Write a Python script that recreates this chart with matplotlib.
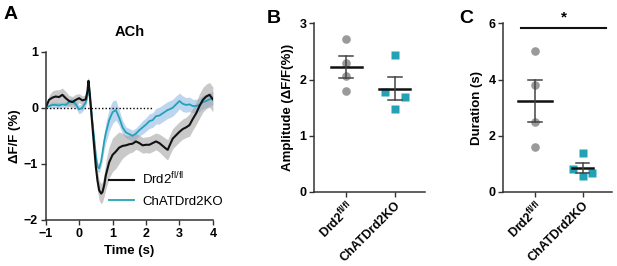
import numpy as np
import matplotlib
matplotlib.use("Agg")
import matplotlib.pyplot as plt

plt.rcParams['font.family'] = ['Liberation Sans', 'DejaVu Sans']
plt.rcParams['font.weight'] = 'bold'
plt.rcParams['axes.labelweight'] = 'bold'

# --- panel A: mean traces (dF/F %) ---
t = [-1.0, -0.9, -0.8, -0.7, -0.6, -0.5, -0.4, -0.3, -0.2, -0.1, 0.0, 0.1, 0.2, 0.25,
     0.28, 0.32, 0.38, 0.45, 0.5, 0.55, 0.6, 0.66, 0.7, 0.75, 0.8, 0.9, 1.0, 1.1, 1.2,
     1.3, 1.4, 1.5, 1.6, 1.7, 1.8, 1.9, 2.0, 2.1, 2.2, 2.3, 2.4, 2.5, 2.6, 2.65, 2.7,
     2.8, 2.9, 3.0, 3.1, 3.2, 3.3, 3.4, 3.5, 3.6, 3.7, 3.8, 3.9, 4.0]
wt_mean = [0.0, 0.14, 0.18, 0.2, 0.19, 0.23, 0.17, 0.12, 0.1, 0.14, 0.17, 0.13, 0.15, 0.3,
           0.48, 0.25, -0.2, -0.7, -1.05, -1.3, -1.47, -1.53, -1.5, -1.38, -1.2, -0.97, -0.84,
           -0.78, -0.71, -0.68, -0.67, -0.65, -0.64, -0.6, -0.63, -0.67, -0.66, -0.66, -0.63,
           -0.6, -0.63, -0.68, -0.73, -0.75, -0.68, -0.55, -0.49, -0.43, -0.38, -0.35, -0.31,
           -0.2, -0.1, 0.03, 0.14, 0.2, 0.23, 0.15]
wt_sem = [0.0, 0.08, 0.12, 0.12, 0.13, 0.12, 0.12, 0.1, 0.1, 0.1, 0.08, 0.08, 0.08, 0.08,
          0.08, 0.1, 0.12, 0.15, 0.17, 0.18, 0.18, 0.18, 0.18, 0.2, 0.25, 0.28, 0.3,
          0.3, 0.28, 0.22, 0.18, 0.16, 0.15, 0.14, 0.14, 0.14, 0.14, 0.15, 0.15,
          0.15, 0.16, 0.17, 0.18, 0.18, 0.18, 0.18, 0.18, 0.18, 0.18, 0.18, 0.2,
          0.2, 0.2, 0.22, 0.22, 0.22, 0.22, 0.22]
ko_mean = [0.0, 0.03, 0.05, 0.05, 0.04, 0.06, 0.05, 0.1, 0.12, 0.06, -0.03, 0.0, 0.1, 0.22,
           0.35, 0.2, -0.15, -0.55, -0.85, -1.05, -1.08, -0.95, -0.8, -0.6, -0.45, -0.22,
           -0.08, -0.04, -0.18, -0.35, -0.44, -0.47, -0.5, -0.46, -0.4, -0.35, -0.3, -0.24,
           -0.22, -0.15, -0.14, -0.1, -0.06, -0.04, -0.03, 0.0, 0.06, 0.12, 0.07, 0.05, 0.06,
           0.03, 0.03, 0.05, 0.1, 0.12, 0.15, 0.17]
ko_sem = [0.0, 0.04, 0.05, 0.05, 0.05, 0.05, 0.05, 0.06, 0.06, 0.07, 0.08, 0.07, 0.07, 0.07,
          0.07, 0.08, 0.08, 0.08, 0.08, 0.08, 0.08, 0.1, 0.12, 0.15, 0.18, 0.2,
          0.2, 0.18, 0.14, 0.12, 0.1, 0.1, 0.1, 0.1, 0.1, 0.12, 0.12, 0.13,
          0.13, 0.14, 0.15, 0.15, 0.15, 0.15, 0.15, 0.15, 0.15, 0.14, 0.14, 0.13, 0.13,
          0.12, 0.12, 0.12, 0.12, 0.12, 0.12, 0.12]

# --- panels B, C: individual animals ---
groups = ['Drd2$^{\\mathregular{fl/fl}}$', 'ChATDrd2KO']
amp_wt = [2.73, 2.30, 2.06, 1.80]
amp_ko = [2.44, 1.77, 1.68, 1.47]
dur_wt = [5.0, 3.8, 2.5, 1.6]
dur_ko = [1.37, 0.80, 0.68, 0.57]

black = '#111111'
teal = '#23a2b6'
grey_pt = '#9a9a9a'

fig = plt.figure(figsize=(6.17, 2.66), dpi=100)

# panel A
axA = fig.add_axes([0.074, 0.173, 0.271, 0.633])
t = np.array(t)
axA.fill_between(t, np.array(ko_mean) - ko_sem, np.array(ko_mean) + ko_sem,
                 color='#a7c7ea', alpha=0.75, lw=0)
axA.fill_between(t, np.array(wt_mean) - wt_sem, np.array(wt_mean) + wt_sem,
                 color='#9e9e9e', alpha=0.55, lw=0)
axA.plot([-1, 2.2], [0, 0], ls=(0, (1, 1.5)), color='k', lw=1)
axA.plot(t, ko_mean, color=teal, lw=1.3, label='ChATDrd2KO')
axA.plot(t, wt_mean, color=black, lw=1.5, label='Drd2$^{\\mathregular{fl/fl}}$')
axA.set_xlim(-1, 4)
axA.set_ylim(-2, 1)
axA.set_xticks([-1, 0, 1, 2, 3, 4])
axA.set_yticks([-2, -1, 0, 1])
axA.set_xlabel('Time (s)', fontsize=9.5)
axA.set_ylabel('ΔF/F (%)', fontsize=9.5, labelpad=2)
axA.set_title('ACh', fontsize=10.5, fontweight='bold', pad=11)
h, l = axA.get_legend_handles_labels()
axA.legend(h[::-1], l[::-1], loc='lower right', bbox_to_anchor=(1.13, 0.0),
           frameon=False, prop={'weight': 'normal', 'size': 9.5},
           handlelength=1.9, labelspacing=0.65, handletextpad=0.6)


def dot_panel(ax, wt, ko, ylim, yticks, ylabel, half_wt, half_ko):
    n = len(wt)
    xs_wt = np.zeros(n)
    xs_ko = np.ones(n) + np.array([0.0, -0.2, 0.2, 0.0])
    ax.plot(xs_wt, wt, 'o', color=grey_pt, ms=6.2, mec='none', zorder=2)
    ax.plot(xs_ko, ko, 's', color=teal, ms=6, mec='none', zorder=2)
    for x, vals, hw in [(0, wt, half_wt), (1, ko, half_ko)]:
        m = np.mean(vals)
        s = np.std(vals, ddof=1) / np.sqrt(len(vals))
        ax.plot([x - hw, x + hw], [m, m], color=black, lw=1.8, zorder=3)
        ax.plot([x, x], [m - s, m + s], color='#444444', lw=1.1, zorder=3)
        ax.plot([x - 0.14, x + 0.14], [m + s, m + s], color='#444444', lw=1.1, zorder=3)
        ax.plot([x - 0.14, x + 0.14], [m - s, m - s], color='#444444', lw=1.1, zorder=3)
    ax.set_xlim(-0.66, 1.62)
    ax.set_ylim(*ylim)
    ax.set_yticks(yticks)
    ax.set_xticks([0, 1])
    ax.set_xticklabels(groups, rotation=45, ha='right', rotation_mode='anchor', fontsize=9)
    ax.set_ylabel(ylabel, fontsize=9.5, labelpad=4)


axB = fig.add_axes([0.509, 0.279, 0.18, 0.633])
dot_panel(axB, amp_wt, amp_ko, (0, 3), [0, 1, 2, 3], 'Amplitude (ΔF/F(%))', 0.32, 0.32)

axC = fig.add_axes([0.816, 0.279, 0.176, 0.633])
dot_panel(axC, dur_wt, dur_ko, (0, 6), [0, 2, 4, 6], 'Duration (s)', 0.36, 0.22)
axC.plot([-0.3, 1.49], [5.82, 5.82], color=black, lw=1.5, clip_on=False)
axC.text(0.6, 5.95, '*', ha='center', va='bottom', fontsize=11, fontweight='bold')

for ax in (axA, axB, axC):
    for side in ('top', 'right'):
        ax.spines[side].set_visible(False)
    for side in ('left', 'bottom'):
        ax.spines[side].set_color('#333333')
        ax.spines[side].set_linewidth(1.1)
    ax.tick_params(length=3.5, width=1, color='#333333', labelsize=9, pad=2)
    for lab in ax.get_xticklabels() + ax.get_yticklabels():
        lab.set_fontweight('bold')

fig.text(0.005, 0.93, 'A', fontsize=14, fontweight='bold')
fig.text(0.433, 0.915, 'B', fontsize=14, fontweight='bold')
fig.text(0.745, 0.915, 'C', fontsize=14, fontweight='bold')

fig.savefig('out.png', dpi=100)
